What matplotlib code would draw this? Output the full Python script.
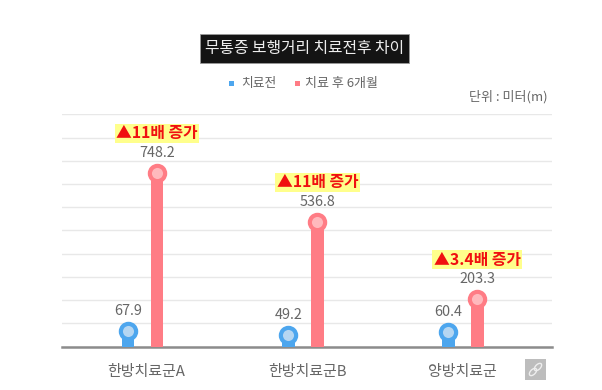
import matplotlib
matplotlib.use('Agg')
import matplotlib.pyplot as plt
from matplotlib.patches import Rectangle, Ellipse

plt.rcParams['font.family'] = ['Noto Sans CJK KR', 'DejaVu Sans']

# dados
grupos = ['한방치료군A', '한방치료군B', '양방치료군']
antes = [67.9, 49.2, 60.4]
depois = [748.2, 536.8, 203.3]
aumento = ['▲11배 증가', '▲11배 증가', '▲3.4배 증가']
label_pos = [0.02, 1.03, 1.995]

W, H = 602, 390
AZUL = '#4da6ee'
ROSA = '#ff7c85'

fig = plt.figure(figsize=(W / 100, H / 100), dpi=100)
ax = fig.add_axes([62 / W, 1 - 346.5 / H, 490 / W, 232.2 / H])
ax.set_xlim(-0.503, 2.556)
ax.set_ylim(0, 1000)

ax.set_yticks(range(0, 1001, 100))
ax.set_yticklabels([])
ax.grid(axis='y', color='#e8e8e8', lw=1)
ax.set_axisbelow(True)
ax.tick_params(length=0)
for s in ['top', 'left', 'right']:
    ax.spines[s].set_visible(False)
ax.spines['bottom'].set_color('#8c8c8c')
ax.spines['bottom'].set_linewidth(1.8)

offset = 0.0906
for i in range(3):
    for x, v, cor, claro in [(i - offset, antes[i], AZUL, '#b5d6f2'),
                             (i + offset, depois[i], ROSA, '#ffb9bd')]:
        ax.bar(x, v, width=0.08, color=cor, zorder=3)
        ax.plot(x, v, 'o', ms=11, mfc=claro, mec=cor, mew=3, zorder=4, clip_on=False)
        ax.annotate(f'{v}', (x, v), xytext=(0, 14.5), textcoords='offset points',
                    ha='center', va='center', fontsize=10.4, color='#666666')
    ax.annotate(aumento[i], (i + offset, depois[i]), xytext=(0, 28.5),
                textcoords='offset points', ha='center', va='center',
                fontsize=11.4, fontweight='bold', color='#f01010',
                bbox=dict(boxstyle='square,pad=0.1', fc='#ffff8c', ec='none'), zorder=5)

ax.set_xticks(label_pos)
ax.set_xticklabels(grupos, fontsize=10.8, color='#666666')
ax.tick_params(axis='x', pad=13.5)

# titulo
fig.add_artist(Rectangle((200 / W, 1 - 62.5 / H), 209 / W, 29 / H, transform=fig.transFigure,
                         fc='#141414', ec='#999999', lw=0.6))
fig.text(304.5 / W, 1 - 48 / H, '무통증 보행거리 치료전후 차이', color='#eeeeee',
         fontsize=11.4, ha='center', va='center')

# legenda
fig.add_artist(Rectangle((228.5 / W, 1 - 85.5 / H), 5 / W, 5 / H, transform=fig.transFigure, fc=AZUL, ec='none'))
fig.text(241 / W, 1 - 83 / H, '치료전', color='#666666', fontsize=9.2, va='center')
fig.add_artist(Rectangle((294.5 / W, 1 - 85.5 / H), 5 / W, 5 / H, transform=fig.transFigure, fc=ROSA, ec='none'))
fig.text(305 / W, 1 - 83 / H, '치료 후 6개월', color='#666666', fontsize=9.4, va='center')
fig.text(548 / W, 1 - 97 / H, '단위 : 미터(m)', color='#666666', fontsize=9.4, ha='right', va='center')

# icone de link
icon = fig.add_axes([525 / W, 1 - 380 / H, 21 / W, 21 / H], facecolor='#bdbdbd')
icon.set_xlim(0, 21)
icon.set_ylim(0, 21)
icon.set_xticks([])
icon.set_yticks([])
for s in icon.spines.values():
    s.set_visible(False)
icon.add_patch(Ellipse((8, 8), 9, 5, angle=45, fc='none', ec='#eeeeee', lw=1))
icon.add_patch(Ellipse((13, 13), 9, 5, angle=45, fc='none', ec='#eeeeee', lw=1))

plt.savefig('out.png', dpi=100)
